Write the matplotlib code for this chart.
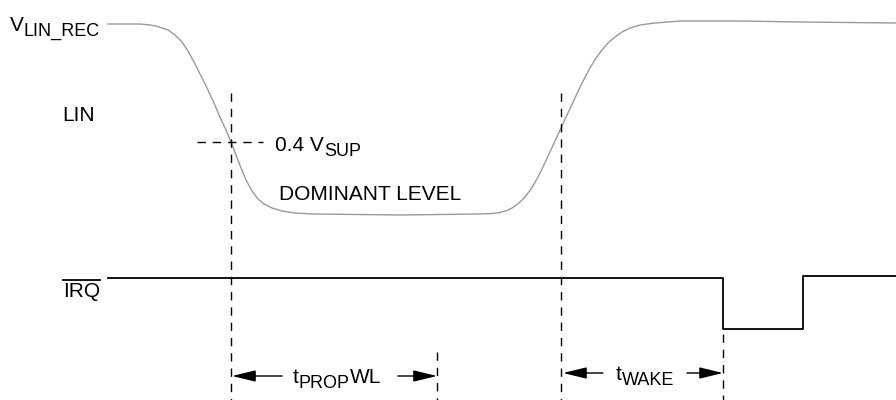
"""LIN wake-up timing diagram"""

import matplotlib
matplotlib.use("Agg")
import matplotlib.pyplot as plt

plt.rcParams['font.family'] = ['Liberation Sans', 'DejaVu Sans']
plt.rcParams['lines.scale_dashes'] = False

# LIN bus waveform (time, level) (screen units, y grows down)
lin_t = [108, 140, 150, 156, 162, 168, 175, 182, 188, 194, 200, 207, 214, 220,
         226, 231, 236, 241, 246, 252, 258, 264, 272, 282, 295, 313,
         400, 480, 492, 500, 507, 513, 519, 525, 531, 537, 543, 549, 555,
         561, 567, 574, 582, 590, 596, 602, 608, 615, 622, 630, 640, 655,
         680, 740, 800, 896]
lin_v = [24, 24, 25, 26, 28, 30, 35, 42, 51, 62, 74, 88, 103, 117,
         130, 142, 155, 168, 180, 191, 199, 204, 208, 211, 213, 214,
         215, 214, 213.5, 212.5, 210.5, 207.5, 203, 197, 189, 179, 167, 154, 141,
         128, 115, 100, 83, 68, 58, 50, 43, 37, 32, 28, 25, 23,
         21, 21, 22, 23]

# IRQ output (step at each time)
irq_t = [108, 723, 723, 803, 803, 896]
irq_v = [278, 278, 329, 329, 276, 276]

# timing markers
t_dom_start = 231
t_dom_end = 561
t_prop_end = 437
t_irq = 723
thr_level = 142

DASH = (0, (6, 5))


def rich_text(ax, x, y, parts, size=15, sub_size=13, sub_drop=5):
    """Draw text pieces one after another; (text, True) is a subscript."""
    fig = ax.figure
    r = fig.canvas.get_renderer()
    inv = ax.transData.inverted()
    last = None
    for s, is_sub in parts:
        t = ax.text(x, y + (sub_drop if is_sub else 0), s,
                    fontsize=sub_size if is_sub else size,
                    ha='left', va='baseline', color='black')
        bb = t.get_window_extent(renderer=r)
        x = inv.transform((bb.x1, bb.y0))[0]
        last = t
    return last


fig = plt.figure(figsize=(8.96, 4.0), dpi=100)
ax = fig.add_axes([0, 0, 1, 1])
ax.set_xlim(0, 896)
ax.set_ylim(400, 0)
ax.axis('off')

# signals
ax.plot(lin_t, lin_v, color='#9a9a9a', lw=1.0, solid_joinstyle='round')
ax.plot(irq_t, irq_v, color='black', lw=1.3)

# dashed guides
ax.plot([t_dom_start, t_dom_start], [93, 400], color='black', lw=1, linestyle=DASH)
ax.plot([t_dom_end, t_dom_end], [93, 400], color='black', lw=1, linestyle=DASH)
ax.plot([t_prop_end, t_prop_end], [352, 400], color='black', lw=1, linestyle=DASH)
ax.plot([t_irq, t_irq], [334, 400], color='black', lw=1, linestyle=DASH)
ax.plot([197, 263], [thr_level, thr_level], color='black', lw=1, linestyle=DASH)

# arrows
ap = dict(arrowstyle='-|>,head_length=1.45,head_width=0.35', color='black',
          lw=1, shrinkA=0, shrinkB=0, mutation_scale=10)
ax.annotate('', xy=(t_dom_start + 1, 376), xytext=(282, 376), arrowprops=ap)
ax.annotate('', xy=(t_prop_end, 376), xytext=(398, 376), arrowprops=ap)
ax.annotate('', xy=(t_dom_end + 2, 373), xytext=(603, 373), arrowprops=ap)
ax.annotate('', xy=(t_irq, 373), xytext=(687, 373), arrowprops=ap)

# labels
fig.canvas.draw()
rich_text(ax, 10, 31, [('V', False), ('LIN_REC', True)])
rich_text(ax, 62, 121, [('LIN', False)])
rich_text(ax, 275, 151, [('0.4 V', False), ('SUP', True)])
rich_text(ax, 279, 200, [('DOMINANT LEVEL', False)])
rich_text(ax, 293, 383, [('t', False), ('PROP', True), ('WL', False)])
rich_text(ax, 616, 380, [('t', False), ('WAKE', True)])

irq = ax.text(63, 297, 'IRQ', fontsize=15, ha='left', va='baseline')
bb = irq.get_window_extent(renderer=fig.canvas.get_renderer())
(x0, _), (x1, _) = ax.transData.inverted().transform([(bb.x0, bb.y0), (bb.x1, bb.y0)])
ax.plot([x0, x1], [280, 280], color='black', lw=1.3)

fig.savefig('out.png', dpi=100)
